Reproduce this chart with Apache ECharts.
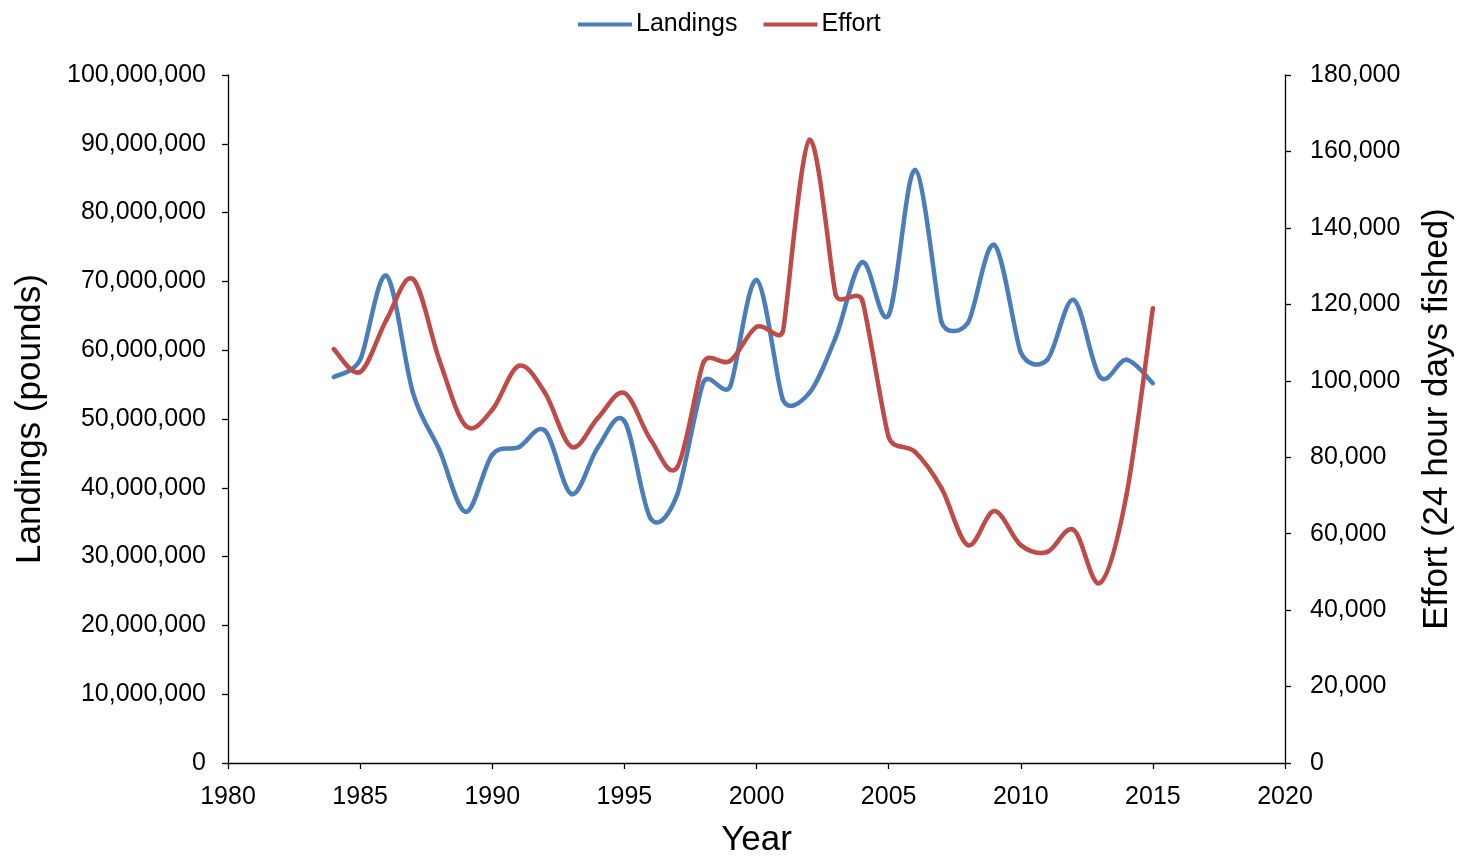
<!DOCTYPE html>
<html>
<head>
<meta charset="utf-8">
<script src="https://cdn.jsdelivr.net/npm/echarts@6/dist/echarts.min.js"></script>
<style>
  html, body { margin: 0; padding: 0; background: #fff; }
  #chart { width: 1461px; height: 858px; }
</style>
</head>
<body>
<div id="chart"></div>
<script>
// Annual landings (pounds) and fishing effort (24 hour days fished), 1984-2015
const years = [1984, 1985, 1986, 1987, 1988, 1989, 1990, 1991, 1992, 1993, 1994, 1995, 1996, 1997, 1998, 1999,
               2000, 2001, 2002, 2003, 2004, 2005, 2006, 2007, 2008, 2009, 2010, 2011, 2012, 2013, 2014, 2015];

const landings = [56100000, 58600000, 70800000, 53800000, 45500000, 36500000, 44800000, 45900000,
                  48300000, 39100000, 45900000, 49700000, 35500000, 39000000, 55400000, 54700000,
                  70200000, 52800000, 53800000, 61900000, 72800000, 65100000, 86200000, 64100000,
                  64000000, 75300000, 59700000, 58600000, 67300000, 56100000, 58600000, 55200000];

const effort = [108300, 102300, 116000, 126600, 105400, 88200, 92400, 103900,
                96800, 82700, 90300, 96800, 84500, 77400, 104900, 105200,
                114100, 113000, 163000, 122400, 121100, 85300, 81400, 71900,
                57000, 65900, 57000, 55200, 61000, 47100, 70100, 119000];

const seriesNames = ['Landings', 'Effort'];
const seriesColors = ['#4a7ebb', '#be4b48'];

const font = '"Liberation Sans", Arial, sans-serif';
const axisLineStyle = { color: '#000', width: 1.3 };
const fmtComma = v => Number(v).toLocaleString('en-US');

// Tangent handle at point k: direction of (next - prev), length |next - prev| / 6,
// capped at half of the shorter neighbouring chord to limit overshoot.
function handle(pt, k) {
  const p0 = pt(k - 1), p1 = pt(k), p2 = pt(k + 1);
  const tx = p2[0] - p0[0], ty = p2[1] - p0[1];
  const tl = Math.hypot(tx, ty);
  if (tl === 0) return [0, 0];
  const d01 = Math.hypot(p1[0] - p0[0], p1[1] - p0[1]);
  const d12 = Math.hypot(p2[0] - p1[0], p2[1] - p1[1]);
  let len = tl / 6;
  const limits = [d01, d12].filter(d => d > 0);
  if (limits.length) len = Math.min(len, Math.min.apply(null, limits) / 2);
  return [tx / tl * len, ty / tl * len];
}

// Smoothed line drawn segment by segment as cubic Bezier curves,
// positioned through the axes with api.coord.
function smoothLineSeries(name, values, color, yAxisIndex) {
  return {
    name: name,
    type: 'custom',
    yAxisIndex: yAxisIndex,
    itemStyle: { color: color },
    data: years.map((y, i) => [y, values[i]]),
    encode: { x: 0, y: 1 },
    renderItem: function (params, api) {
      const i = params.dataIndex;
      const n = years.length;
      if (i >= n - 1) return null;
      const pt = k => {
        const c = Math.max(0, Math.min(n - 1, k));
        return api.coord([years[c], values[c]]);
      };
      const p1 = pt(i), p2 = pt(i + 1);
      const h1 = handle(pt, i), h2 = handle(pt, i + 1);
      return {
        type: 'bezierCurve',
        shape: {
          x1: p1[0], y1: p1[1],
          x2: p2[0], y2: p2[1],
          cpx1: p1[0] + h1[0], cpy1: p1[1] + h1[1],
          cpx2: p2[0] - h2[0], cpy2: p2[1] - h2[1]
        },
        style: { stroke: color, lineWidth: 4.5, fill: null, lineCap: 'round' },
        silent: true
      };
    }
  };
}

const chart = echarts.init(document.getElementById('chart'), null, { renderer: 'canvas' });

chart.setOption({
  animation: false,
  backgroundColor: '#fff',
  textStyle: { fontFamily: font },
  legend: {
    data: seriesNames,
    left: 573,
    top: 7,
    itemWidth: 54,
    itemHeight: 4,
    itemGap: 26,
    icon: 'rect',
    textStyle: { fontFamily: font, fontSize: 25, color: '#000', padding: [0, 0, 0, -1] }
  },
  grid: { left: 228, right: 176, top: 75, bottom: 95, containLabel: false, outerBoundsMode: 'none' },
  xAxis: {
    type: 'value',
    min: 1980,
    max: 2020,
    interval: 5,
    name: 'Year',
    nameLocation: 'middle',
    nameGap: 60,
    nameTextStyle: { fontFamily: font, fontSize: 35, color: '#000' },
    axisLine: { show: true, lineStyle: axisLineStyle },
    axisTick: { show: true, length: 6, inside: false, lineStyle: axisLineStyle },
    axisLabel: { fontFamily: font, fontSize: 25, color: '#000', margin: 22, formatter: v => String(v) },
    splitLine: { show: false }
  },
  yAxis: [
    {
      type: 'value',
      min: 0,
      max: 100000000,
      interval: 10000000,
      position: 'left',
      name: 'Landings (pounds)',
      nameLocation: 'middle',
      nameRotate: 90,
      nameGap: 180,
      nameTextStyle: { fontFamily: font, fontSize: 35, color: '#000' },
      axisLine: { show: true, lineStyle: axisLineStyle },
      axisTick: { show: true, length: 6, inside: false, lineStyle: axisLineStyle },
      axisLabel: { fontFamily: font, fontSize: 25, color: '#000', margin: 22, formatter: fmtComma },
      splitLine: { show: false }
    },
    {
      type: 'value',
      min: 0,
      max: 180000,
      interval: 20000,
      position: 'right',
      name: 'Effort (24 hour days fished)',
      nameLocation: 'middle',
      nameRotate: 90,
      nameGap: 135,
      nameTextStyle: { fontFamily: font, fontSize: 35, color: '#000' },
      axisLine: { show: true, lineStyle: axisLineStyle },
      axisTick: { show: true, length: 6, inside: false, lineStyle: axisLineStyle },
      axisLabel: { fontFamily: font, fontSize: 25, color: '#000', margin: 25, formatter: fmtComma },
      splitLine: { show: false }
    }
  ],
  series: [
    smoothLineSeries(seriesNames[0], landings, seriesColors[0], 0),
    smoothLineSeries(seriesNames[1], effort, seriesColors[1], 1)
  ]
});
</script>
</body>
</html>
